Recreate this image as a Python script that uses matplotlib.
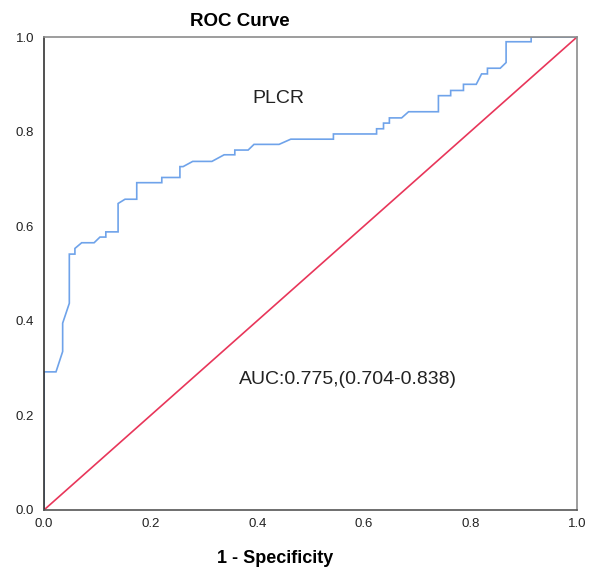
import matplotlib.pyplot as plt
import numpy as np

plt.rcParams['font.family'] = ['Liberation Sans', 'DejaVu Sans']

# ROC curve points (1 - specificity, sensitivity)
fpr = [0.0, 0.0, 0.0225, 0.035, 0.035, 0.0475, 0.0475, 0.058, 0.058, 0.0707,
       0.094, 0.105, 0.116, 0.116, 0.139, 0.139, 0.152, 0.174, 0.174, 0.221,
       0.221, 0.255, 0.255, 0.261, 0.279, 0.315, 0.338, 0.358, 0.358, 0.383,
       0.394, 0.441, 0.463, 0.543, 0.543, 0.624, 0.624, 0.637, 0.637, 0.648,
       0.648, 0.671, 0.684, 0.740, 0.740, 0.763, 0.763, 0.787, 0.787, 0.811,
       0.821, 0.832, 0.832, 0.856, 0.867, 0.867, 0.914, 0.914, 1.0]
tpr = [0.0, 0.292, 0.292, 0.335, 0.395, 0.437, 0.541, 0.541, 0.553, 0.565,
       0.565, 0.577, 0.577, 0.588, 0.588, 0.648, 0.657, 0.657, 0.692, 0.692,
       0.703, 0.703, 0.726, 0.726, 0.737, 0.737, 0.751, 0.751, 0.761, 0.761,
       0.773, 0.773, 0.784, 0.784, 0.795, 0.795, 0.806, 0.806, 0.818, 0.818,
       0.829, 0.829, 0.842, 0.842, 0.876, 0.876, 0.887, 0.887, 0.900, 0.900,
       0.922, 0.922, 0.934, 0.934, 0.946, 0.990, 0.990, 1.0, 1.0]
ref_line = [0.0, 1.0]
ticks = [0.0, 0.2, 0.4, 0.6, 0.8, 1.0]

fig = plt.figure(figsize=(5.93, 5.73), dpi=100)
ax = fig.add_axes([0.0742, 0.110, 0.8988, 0.8254])

ax.plot(fpr, tpr, color='#6fa3ea', lw=1.2, solid_joinstyle='miter')
ax.plot(ref_line, ref_line, color='#e8365a', lw=1.2)

ax.set_xlim(0, 1)
ax.set_ylim(0, 1)
ax.set_xticks(ticks)
ax.set_yticks(ticks)
ax.set_xticklabels(['%.1f' % t for t in ticks])
ax.set_yticklabels(['%.1f' % t for t in ticks])
ax.tick_params(length=0, labelsize=9.5, colors='#222222')
ax.tick_params(axis='x', pad=6)
ax.tick_params(axis='y', pad=7)
for s in ax.spines.values():
    s.set_color('#8c8c8c')
    s.set_linewidth(1.2)
ax.spines['left'].set_color('#333333')
ax.spines['bottom'].set_color('#555555')

ax.text(0.368, 1.032, 'ROC Curve', fontsize=13.5, fontweight='bold',
        ha='center', va='center', transform=ax.transAxes)
ax.set_xlabel('1 - Specificity', fontsize=13, fontweight='bold')
ax.xaxis.set_label_coords(0.433, -0.084)

ax.text(0.439, 0.871, 'PLCR', fontsize=14, ha='center', va='center', color='#222222')
ax.text(0.571, 0.275, 'AUC:0.775,(0.704-0.838)', fontsize=14, ha='center',
        va='center', color='#222222')

fig.savefig('out.png', dpi=100)
